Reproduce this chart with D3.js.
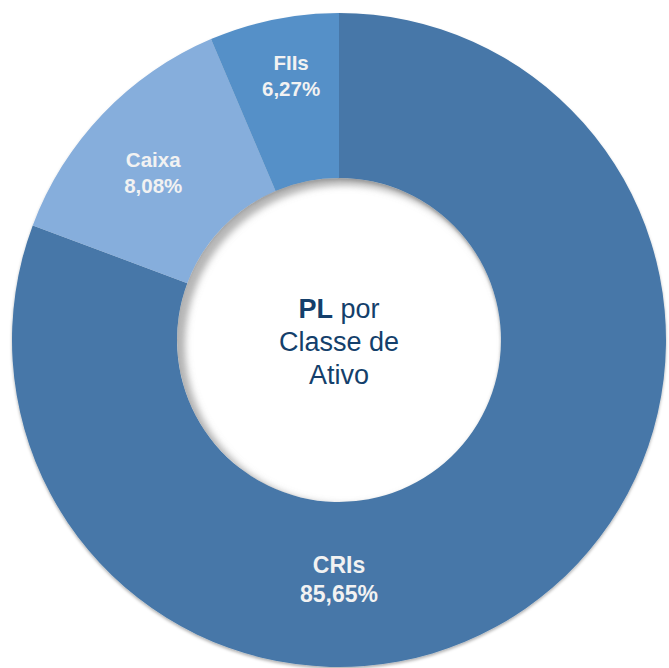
<!DOCTYPE html>
<html>
<head>
<meta charset="utf-8">
<script src="https://cdn.jsdelivr.net/npm/d3@7"></script>
<style>
  body { margin: 0; background: #fff; }
  svg { display: block; font-family: "Liberation Sans", Arial, sans-serif; }
</style>
</head>
<body>
<svg id="chart"></svg>
<script>
// chart values (slice sizes as drawn in the picture; labels as printed)
const categories = ["CRIs", "Caixa", "FIIs"];
const sliceShares = [80.7, 12.9, 6.4];
const shareLabels = ["85,65%", "8,08%", "6,27%"];
const colors = ["#4677A8", "#86AEDC", "#5590C8"];
const centerLines = [["PL", " por"], ["Classe de"], ["Ativo"]];

const width = 669, height = 668;
const cx = 339, cy = 340;
const outerR = 327, innerR = 162;

// label anchors: angle (deg, clockwise from top), radius, font size
const labelLayout = [
  { angle: 180, r: 240, size: 23, gap: 29 },
  { angle: -48, r: 250, size: 20.5, gap: 26 },
  { angle: -10.3, r: 268, size: 20.5, gap: 26 }
];

const svg = d3.select("#chart").attr("width", width).attr("height", height);
const defs = svg.append("defs");

const drop = defs.append("filter").attr("id", "drop")
  .attr("x", "-5%").attr("y", "-5%").attr("width", "110%").attr("height", "110%");
drop.append("feDropShadow").attr("dx", 0).attr("dy", 2).attr("stdDeviation", 1.5)
  .attr("flood-color", "#000").attr("flood-opacity", 0.3);

defs.append("clipPath").attr("id", "hole")
  .append("circle").attr("cx", cx).attr("cy", cy).attr("r", innerR);
defs.append("filter").attr("id", "blur")
  .append("feGaussianBlur").attr("stdDeviation", 3.5);

const pie = d3.pie().sort(null).value(d => d.value);
const arc = d3.arc().innerRadius(innerR).outerRadius(outerR);
const data = categories.map((c, i) => ({ name: c, value: sliceShares[i], label: shareLabels[i], color: colors[i] }));
const arcs = pie(data);

const g = svg.append("g").attr("transform", `translate(${cx},${cy})`);

g.append("g").attr("filter", "url(#drop)")
  .selectAll("path")
  .data(arcs)
  .join("path")
  .attr("d", arc)
  .attr("fill", d => d.data.color);

// soft inner shadow inside the hole, heavier on the upper left
svg.append("g").attr("clip-path", "url(#hole)")
  .append("circle")
  .attr("cx", cx + 6).attr("cy", cy + 5).attr("r", innerR + 4)
  .attr("fill", "none")
  .attr("stroke", "#8a8a8a")
  .attr("stroke-opacity", 0.65)
  .attr("stroke-width", 12)
  .attr("filter", "url(#blur)");

// slice labels
const labels = g.append("g").selectAll("text")
  .data(arcs)
  .join("text")
  .attr("text-anchor", "middle")
  .attr("fill", "#F2F2F2")
  .attr("font-weight", "bold")
  .attr("font-size", (d, i) => labelLayout[i].size)
  .attr("transform", (d, i) => {
    const a = labelLayout[i].angle * Math.PI / 180;
    const r = labelLayout[i].r;
    return `translate(${r * Math.sin(a)},${-r * Math.cos(a)})`;
  });
labels.append("tspan").attr("x", 0).attr("dy", (d, i) => -labelLayout[i].gap / 2 + 7)
  .text(d => d.data.name);
labels.append("tspan").attr("x", 0).attr("dy", (d, i) => labelLayout[i].gap)
  .text(d => d.data.label);

// center title
const title = g.append("text")
  .attr("text-anchor", "middle")
  .attr("fill", "#143F6B")
  .attr("font-size", 27);
centerLines.forEach((parts, i) => {
  parts.forEach((p, j) => {
    const t = title.append("tspan").text(p);
    if (j === 0) t.attr("x", 0).attr("y", -22 + i * 33);
    if (i === 0 && j === 0) t.attr("font-weight", "bold");
  });
});
</script>
</body>
</html>
